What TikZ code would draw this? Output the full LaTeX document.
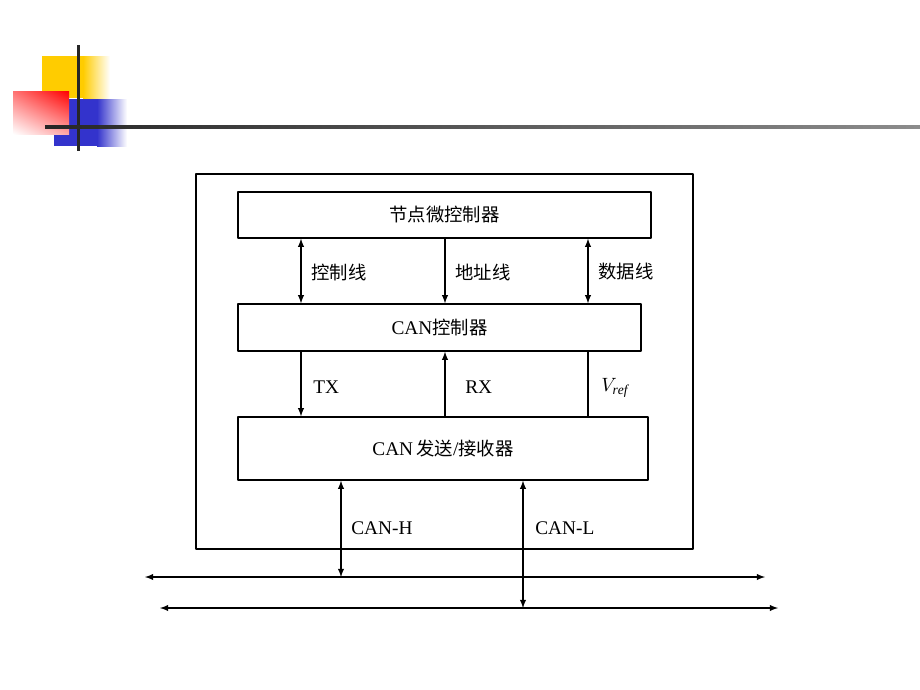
\documentclass[tikz,border=0pt]{standalone}
\usepackage{fontspec}
\setmainfont{Liberation Serif}
\newfontfamily\cjk[Scale=0.95]{Noto Sans CJK SC}
\usetikzlibrary{arrows,shadings}
\definecolor{deckyellow}{RGB}{255,204,0}
\definecolor{deckblue}{RGB}{51,51,204}
\definecolor{deckred}{RGB}{255,0,0}

\begin{document}
\begin{tikzpicture}[x=0.02cm,y=-0.02cm,line cap=round,line join=round,>=latex,
    blockbox/.style={draw,line width=0.8pt,inner sep=0pt,font=\fontsize{11}{13}\selectfont},
    lbl/.style={anchor=west,inner sep=0pt,font=\fontsize{11}{13}\selectfont},
    wire/.style={line width=0.6pt}]
  \useasboundingbox (0,0) rectangle (920,690);

  % Corner decoration of the slide
  \fill[deckyellow] (42,56) rectangle (83,98);
  \shade[left color=deckyellow,right color=white] (83,56) rectangle (110,98);
  \fill[deckblue] (54,99) rectangle (97,146);
  \shade[left color=deckblue,right color=white] (97,99) rectangle (127,146);
  \shade[upper left=deckred!55,upper right=deckred,lower left=white,lower right=deckred!35] (13,91) rectangle (69,134);
  \fill[black!85] (77,45) rectangle (80,151);
  \shade[left color=black!85,right color=black!45] (45,125) rectangle (920,128);

  % Outer frame of the node
  \draw[line width=0.7pt] (196,174) rectangle (693,549);

  % Blocks
  \node[blockbox,minimum width=8.26cm,minimum height=0.92cm] (mcu) at (444.5,215) {{\cjk 节点微控制器}};
  \node[blockbox,minimum width=8.06cm,minimum height=0.94cm] (canc) at (439.5,327.5) {CAN{\cjk 控制器}};
  \node[blockbox,minimum width=8.2cm,minimum height=1.26cm] (trx) at (443,448.5) {CAN\,{\cjk 发送}/{\cjk 接收器}};

  % Wire positions and bus ends
  \coordinate (w1) at (301,0);
  \coordinate (w2) at (445,0);
  \coordinate (w3) at (588,0);
  \coordinate (hx) at (341,0);
  \coordinate (lx) at (523,0);
  \coordinate (hl) at (145,577);
  \coordinate (hr) at (765,577);
  \coordinate (ll) at (160,608);
  \coordinate (lr) at (778,608);

  % Lines between the controllers
  \draw[wire,<->] (mcu.south -| w1) -- (canc.north -| w1);
  \draw[wire,->] (mcu.south -| w2) -- (canc.north -| w2);
  \draw[wire,<->] (mcu.south -| w3) -- (canc.north -| w3);
  \node[lbl] (lctl) at (311,272) {{\cjk 控制线}};
  \node[lbl] (ladr) at (455,272) {{\cjk 地址线}};
  \node[lbl] (ldat) at (598,272) {{\cjk 数据线}};

  % Lines to the transceiver
  \draw[wire,->] (canc.south -| w1) -- (trx.north -| w1);
  \draw[wire,<-] (canc.south -| w2) -- (trx.north -| w2);
  \draw[wire] (canc.south -| w3) -- (trx.north -| w3);
  \node[lbl] (ltx) at (313,387) {TX};
  \node[lbl] (lrx) at (465,387) {RX};
  \node[lbl] (lref) at (601,388) {$V_{\mathit{ref}}$};

  % Bus
  \draw[wire,<->] (trx.south -| hx) -- (hx |- hl);
  \draw[wire,<->] (trx.south -| lx) -- (lx |- ll);
  \draw[wire,<->] (hl) -- (hr);
  \draw[wire,<->] (ll) -- (lr);
  \node[lbl] (lh) at (351,528) {CAN-H};
  \node[lbl] (ll2) at (535,528) {CAN-L};
\end{tikzpicture}
\end{document}
